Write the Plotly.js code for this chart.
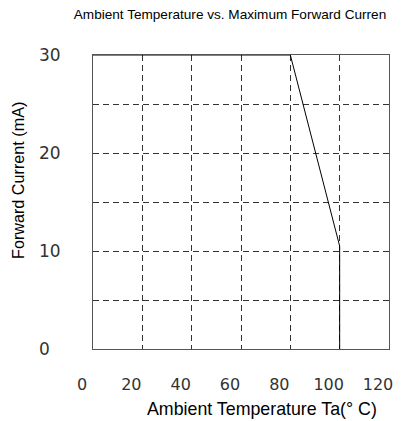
<!DOCTYPE html>
<html>
<head>
<meta charset="utf-8">
<script src="https://cdn.plot.ly/plotly-3.0.1.min.js"></script>
<style>html,body{margin:0;padding:0;background:#fff;}#chart{width:401px;height:421px;}</style>
</head>
<body>
<div id="chart"></div>
<script>
// Data
const temperature = [0, 80, 100, 100];
const forwardCurrent = [30, 30, 10.5, 0];

const xTickVals = [0, 20, 40, 60, 80, 100, 120];
const xTickText = ["0", "20", "40", "60", "80", "100", "120"];
const yTickVals = [0, 5, 10, 15, 20, 25, 30];
const yTickText = ["0\u2007", "", "10", "", "20", "", "30"];

const chartTitle = "Ambient Temperature vs. Maximum Forward Curren";
const xTitle = "Ambient Temperature Ta(\u00b0 C)";
const yTitle = "Forward Current (mA)";

const tickFont = {family: "DejaVu Sans", size: 16, color: "#333"};

const trace = {
  x: temperature, y: forwardCurrent, type: "scatter", mode: "lines",
  line: {color: "#000", width: 1}, hoverinfo: "skip", cliponaxis: false
};

const layout = {
  width: 401, height: 421,
  margin: {l: 93, r: 12, t: 55, b: 72, pad: 0},
  paper_bgcolor: "#fff", plot_bgcolor: "#fff",
  showlegend: false,
  title: {
    text: chartTitle,
    font: {family: "Liberation Sans, Arial", size: 13.6, color: "#000"},
    xref: "container", yref: "container", x: 230/401, xanchor: "center", y: 1 - 14/421, yanchor: "middle"
  },
  xaxis: {
    range: [0, 120], tickmode: "array", tickvals: xTickVals, ticktext: xTickText,
    showgrid: true, gridcolor: "#333", gridwidth: 1, griddash: "6px,4px",
    zeroline: false, showline: true, mirror: true, linecolor: "#555", linewidth: 1,
    ticks: "", tickfont: tickFont, ticklabelshift: -11, ticklabelstandoff: 21,
    fixedrange: true
  },
  yaxis: {
    range: [0, 30], tickmode: "array", tickvals: yTickVals, ticktext: yTickText,
    showgrid: true, gridcolor: "#333", gridwidth: 1, griddash: "6px,4px",
    zeroline: false, showline: true, mirror: true, linecolor: "#555", linewidth: 1,
    ticks: "", tickfont: Object.assign({}, tickFont, {size: 17}), ticklabelstandoff: 28,
    fixedrange: true
  },
  annotations: [
    {text: xTitle, xref: "paper", yref: "paper", x: (262-93)/296, y: -(409-349)/294,
     xanchor: "center", yanchor: "middle", showarrow: false,
     font: {family: "Liberation Sans, Arial", size: 17.8, color: "#000"}},
    {text: yTitle, xref: "paper", yref: "paper", x: -(93-18)/296, y: (349-181)/294,
     xanchor: "center", yanchor: "middle", showarrow: false, textangle: -90,
     font: {family: "Liberation Sans, Arial", size: 16.2, color: "#000"}}
  ]
};

Plotly.newPlot("chart", [trace], layout, {staticPlot: true, displayModeBar: false});
</script>
</body>
</html>
